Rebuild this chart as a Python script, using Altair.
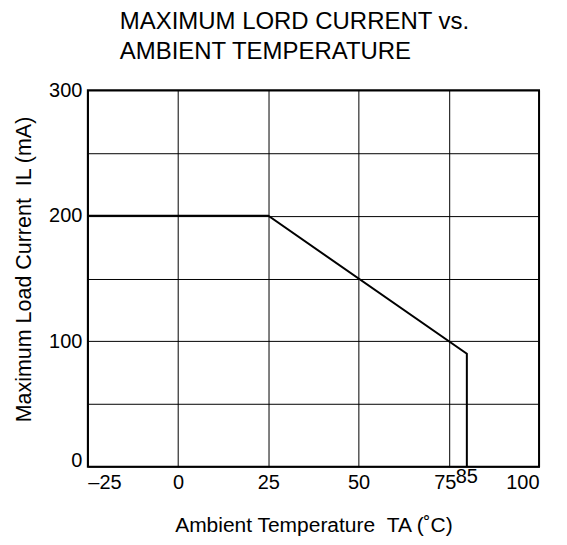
import altair as alt
import pandas as pd

# Data
temps = [-25, 25, 80, 80]
currents = [200, 200, 90, 0]
x_ticks = [-25, 0, 25, 50, 75, 100]
y_ticks = [0, 50, 100, 150, 200, 250, 300]
extra_label_x = [80]
extra_label_text = ["85"]

FONT = "Liberation Sans"

df = pd.DataFrame({"t": temps, "i": currents, "o": list(range(len(temps)))})
lab = pd.DataFrame({"t": extra_label_x, "i": [0], "txt": extra_label_text})

x_scale = alt.Scale(domain=[-25, 100], nice=False, zero=False)
y_scale = alt.Scale(domain=[0, 300], nice=False)

x_axis = alt.Axis(
    values=x_ticks,
    title="Ambient Temperature \u00a0TA (˚C)",
    labelExpr="datum.value < 0 ? '–' + format(-datum.value, 'd') : format(datum.value, 'd')",
    labelOffset={"condition": {"test": "datum.value === 75", "value": -4}, "value": 0},
    grid=True, gridColor="black", gridWidth=1, gridOpacity=1,
    domain=False, ticks=False,
    labelFont=FONT, labelFontSize=20, labelColor="black", labelPadding=6,
    titleFont=FONT, titleFontSize=21, titleFontWeight="normal", titleColor="black",
    titlePadding=22,
)
y_axis = alt.Axis(
    values=y_ticks,
    title="Maximum Load Current \u00a0IL (mA)",
    labelExpr="datum.value % 100 == 0 ? format(datum.value, 'd') : ''",
    labelBaseline={"condition": {"test": "datum.value === 0", "value": "alphabetic"}, "value": "middle"},
    grid=True, gridColor="black", gridWidth=1, gridOpacity=1,
    domain=False, ticks=False,
    labelFont=FONT, labelFontSize=20, labelColor="black", labelPadding=6,
    titleFont=FONT, titleFontSize=21.5, titleFontWeight="normal", titleColor="black",
    titlePadding=13, titleY=179,
)

line = alt.Chart(df).mark_line(color="black", strokeWidth=2).encode(
    x=alt.X("t:Q", scale=x_scale, axis=x_axis),
    y=alt.Y("i:Q", scale=y_scale, axis=y_axis),
    order="o:O",
)

text = alt.Chart(lab).mark_text(
    font=FONT, fontSize=20, color="black", align="center", baseline="alphabetic", dy=16
).encode(
    x=alt.X("t:Q", scale=x_scale),
    y=alt.Y("i:Q", scale=y_scale),
    text="txt:N",
)

chart = alt.layer(line, text).properties(
    width=452,
    height=377,
    title=alt.TitleParams(
        ["MAXIMUM LORD CURRENT vs.", "AMBIENT TEMPERATURE"],
        anchor="start", frame="group", dx=32, font=FONT, fontSize=24, fontWeight="normal",
        color="black", lineHeight=30, offset=16,
    ),
    autosize=alt.AutoSizeParams(type="none"),
    padding={"left": 80, "top": 82, "right": 20, "bottom": 78},
).configure_view(stroke="black", strokeWidth=2)

chart.save("out.html", embed_options={"renderer": "svg", "actions": False})
